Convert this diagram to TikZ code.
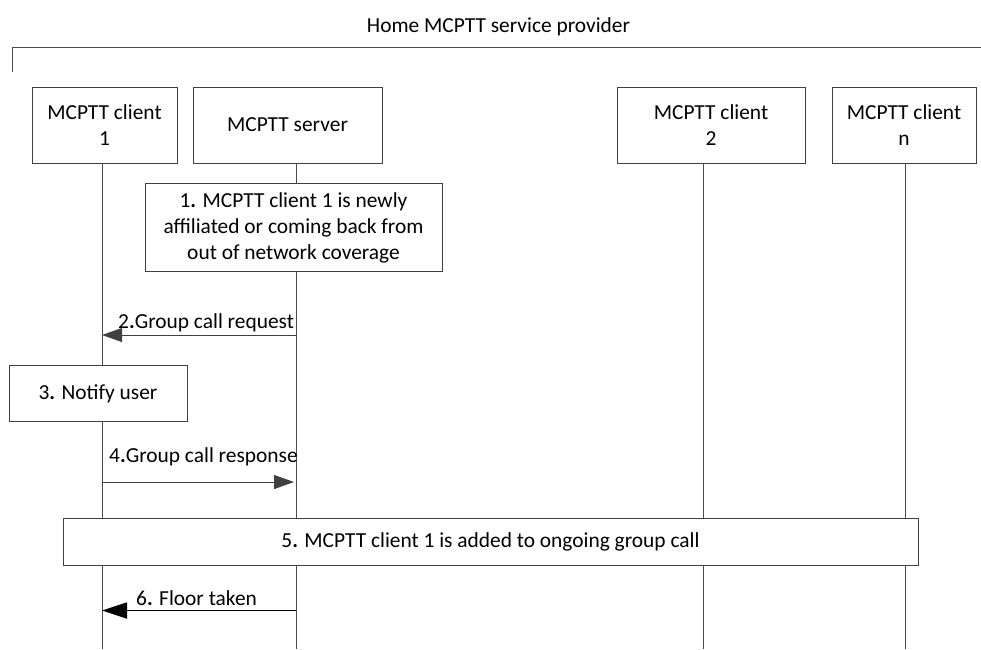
\documentclass[tikz,border=0pt]{standalone}
\usepackage{fontspec}
\setmainfont{Carlito}
\usetikzlibrary{arrows.meta}
\begin{document}
\begin{tikzpicture}[x=1pt,y=-1pt,
  every node/.style={font=\fontsize{21.4}{26}\selectfont},
  ent/.style={draw=black!75,line width=0.9pt,fill=white,minimum height=76pt,inner sep=2pt,align=center},
  stepbox/.style={draw=black!75,line width=0.9pt,fill=white,inner sep=2pt,align=center},
  life/.style={draw=black!70,line width=0.8pt},
  msg/.style={draw=black!70,line width=0.8pt,-{Triangle[length=20pt,width=14pt]},color=black!75},
  msgb/.style={draw=black,line width=1.8pt,-{Triangle[length=25pt,width=16pt]}},
  lbl/.style={inner sep=0pt,anchor=base west}]
\useasboundingbox (0,0) rectangle (981,649);
% title and bracket
\node[inner sep=0pt,anchor=base] (title) at (498.5,32) {Home MCPTT service provider};
\coordinate (brL) at (12,72);
\coordinate (brTL) at (12,47);
\coordinate (brTR) at (981,47);
\draw[draw=black!70,line width=0.9pt] (brL) -- (brTL) -- (brTR);
% lifeline anchors
\coordinate (l1) at (102,163);
\coordinate (ls) at (296,163);
\coordinate (l2) at (703,163);
\coordinate (ln) at (905,163);
\coordinate (b1) at (102,649);
\coordinate (bs) at (296,649);
\coordinate (b2) at (703,649);
\coordinate (bn) at (905,649);
\draw[life] (l1) -- (b1);
\draw[life] (ls) -- (bs);
\draw[life] (l2) -- (b2);
\draw[life] (ln) -- (bn);
% entity boxes
\node[ent,minimum width=145pt] (c1) at (104.5,125) {MCPTT client\\1};
\node[ent,minimum width=189pt] (srv) at (287.5,125) {MCPTT server};
\node[ent,minimum width=188pt] (c2) at (711,125) {MCPTT client\\2};
\node[ent,minimum width=144pt] (cn) at (904,125) {MCPTT client\\n};
% step 1
\node[stepbox,minimum width=297pt,minimum height=88pt] (s1) at (293.5,227.5)
  {1\textbf{.} MCPTT client 1 is newly\\affiliated or coming back from\\out of network coverage};
% step 2
\coordinate (m2s) at (296,335);
\coordinate (m2c) at (102,335);
\draw[msg] (m2s) -- (m2c);
\node[lbl] (t2) at (118,328) {2\textbf{.}Group call request};
% step 3
\node[stepbox,minimum width=178pt,minimum height=56pt] (s3) at (98,393.5) {3\textbf{.} Notify user};
% step 4
\coordinate (m4c) at (102,482);
\coordinate (m4s) at (294,482);
\draw[msg] (m4c) -- (m4s);
\node[lbl] (t4) at (109,462) {4\textbf{.}Group call response};
% step 5
\node[stepbox,minimum width=855pt,minimum height=47pt] (s5) at (490.5,541.5)
  {5\textbf{.} MCPTT client 1 is added to ongoing group call};
% step 6
\coordinate (m6s) at (296,610.5);
\coordinate (m6c) at (102,610.5);
\draw[msgb] (m6s) -- (m6c);
\node[lbl] (t6) at (136,605) {6\textbf{.} Floor taken};
\end{tikzpicture}
\end{document}
